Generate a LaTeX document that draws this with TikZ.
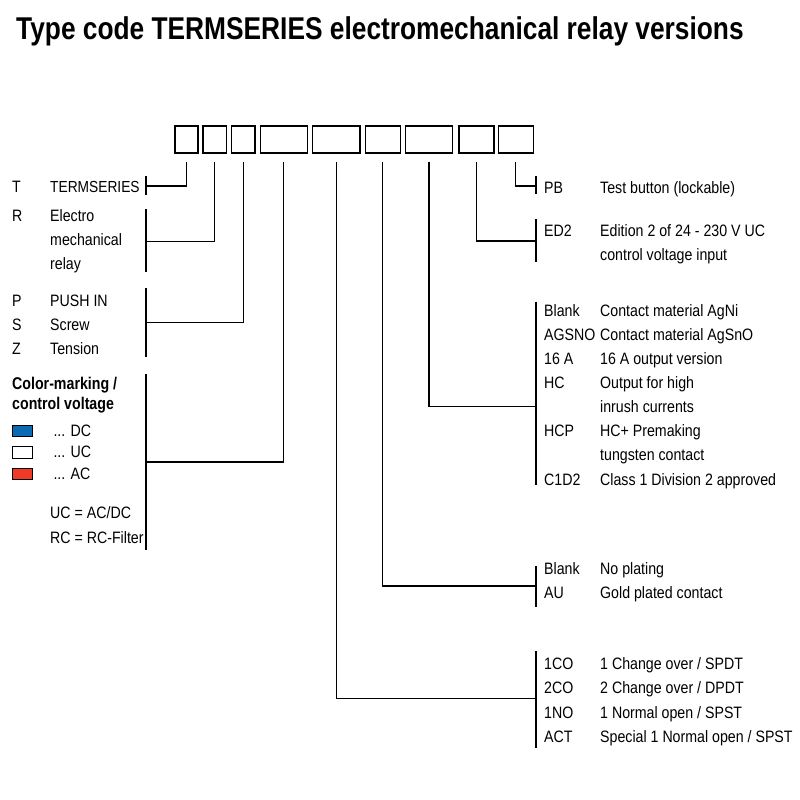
\documentclass[tikz,border=0pt]{standalone}
\usepackage{fontspec}
\setmainfont[FakeStretch=0.835]{Liberation Sans}
\newfontfamily\bodyfont[FakeStretch=0.86]{Liberation Sans}
\definecolor{dcblue}{RGB}{10,106,178}
\definecolor{acred}{RGB}{240,58,40}
\tikzset{
  txt/.style={anchor=base west,inner sep=0,font=\bodyfont\fontsize{16.5}{24.2}\selectfont,align=left},
  lead/.style={line width=1.3pt},
  bar/.style={line width=1.3pt},
}
\begin{document}
\begin{tikzpicture}[x=1pt,y=-1pt]
        \useasboundingbox (0,0) rectangle (800,800);

        \node[anchor=base west,inner sep=0,font=\bfseries\fontsize{31.5}{36}\selectfont] (title) at (16,39.5)
          {Type code TERMSERIES electromechanical relay versions};

        % code boxes
        \begin{scope}[every node/.style={draw,line width=1.4pt,minimum height=27,inner sep=0}]
          \node[minimum width=23]   (b1) at (186.5,139.3) {};
          \node[minimum width=23.5] (b2) at (214.8,139.3) {};
          \node[minimum width=23.5] (b3) at (243.2,139.3) {};
          \node[minimum width=47]   (b4) at (283.7,139.3) {};
          \node[minimum width=47.5] (b5) at (336.2,139.3) {};
          \node[minimum width=35]   (b6) at (382.7,139.3) {};
          \node[minimum width=47]   (b7) at (429,139.3)   {};
          \node[minimum width=35]   (b8) at (476.3,139.3) {};
          \node[minimum width=35]   (b9) at (515.8,139.3) {};
        \end{scope}

        % junctions on the brackets
        \coordinate (jT)   at (146,186);
        \coordinate (jR)   at (146,241.7);
        \coordinate (jP)   at (146,322.3);
        \coordinate (jC)   at (146,462);
        \coordinate (jPB)  at (536,186);
        \coordinate (jED)  at (536,241);
        \coordinate (jMat) at (536,406.7);
        \coordinate (jAU)  at (536,586);
        \coordinate (jCO)  at (536,698.7);

        \begin{scope}[every path/.style={bar}]
          \draw (146,176)   -- (146,195);
          \draw (146,209)   -- (146,271.7);
          \draw (146,288.3) -- (146,356.7);
          \draw (146,374)   -- (146,550);
          \draw (536,176)   -- (536,194);
          \draw (536,219)   -- (536,261.7);
          \draw (536,301.7) -- (536,485);
          \draw (536,566)   -- (536,606.7);
          \draw (536,651)   -- (536,748);
        \end{scope}

        \draw[lead] ([yshift=-8pt]b1.south) |- (jT);
        \draw[lead] ([yshift=-8pt]b2.south) |- (jR);
        \draw[lead] ([yshift=-8pt]b3.south) |- (jP);
        \draw[lead] ([yshift=-8pt]b4.south) |- (jC);
        \draw[lead] ([yshift=-8pt]b5.south) |- (jCO);
        \draw[lead] ([yshift=-8pt]b6.south) |- (jAU);
        \draw[lead] ([yshift=-8pt]b7.south) |- (jMat);
        \draw[lead] ([yshift=-8pt]b8.south) |- (jED);
        \draw[lead] ([yshift=-8pt]b9.south) |- (jPB);

        % left side (base = last line)
        \begin{scope}[every node/.style={txt}]
          \node (cT) at (12,192)    {T};
          \node[font=\bodyfont\fontsize{16}{24.2}\selectfont] (dT) at (50,192) {TERMSERIES};
          \node (cR) at (12,221)    {R};
          \node (dR) at (50,269.4)  {Electro\\mechanical\\relay};
          \node[font=\bodyfont\fontsize{16.5}{23.8}\selectfont] (cP) at (12,354.1) {P\\S\\Z};
          \node[font=\bodyfont\fontsize{16.5}{23.8}\selectfont] (dP) at (50,354.1) {PUSH IN\\Screw\\Tension};
          \node[font=\bfseries\fontsize{17}{19.4}\selectfont] (colhead) at (12,409.3)
            {Color-marking /\\control voltage};
          \node (dDC) at (53.3,436.7) {... DC};
          \node (dUC) at (53.3,457.7) {... UC};
          \node (dAC) at (53.3,479)   {... AC};
          \node[font=\bodyfont\fontsize{16.5}{25}\selectfont] (uc) at (50,543.3) {UC = AC/DC\\RC = RC-Filter};
        \end{scope}

        \begin{scope}[every node/.style={draw,line width=0.8pt,minimum width=19.5,minimum height=11.5,inner sep=0}]
          \node[fill=dcblue] (kDC) at (22.2,431)   {};
          \node[fill=white]  (kUC) at (22.2,452.2) {};
          \node[fill=acred]  (kAC) at (22.2,473.8) {};
        \end{scope}

        % right side (base = last line)
        \begin{scope}[every node/.style={txt}]
          \node (cPB)  at (544,193)   {PB};
          \node (dPB)  at (600,193)   {Test button (lockable)};
          \node (cED)  at (544,236)   {ED2};
          \node (dED)  at (600,260.2) {Edition 2 of 24 - 230 V UC\\control voltage input};
          \node[font=\bodyfont\fontsize{16.5}{24.05}\selectfont] (cMat) at (544,485) {Blank\\AGSNO\\16 A\\HC\\\\HCP\\\\C1D2};
          \node[font=\bodyfont\fontsize{16.5}{24.05}\selectfont] (dMat) at (600,485) {Contact material AgNi\\Contact material AgSnO\\16 A output version\\Output for high\\inrush currents\\HC+ Premaking\\tungsten contact\\Class 1 Division 2 approved};
          \node (cAU)  at (544,598.3) {Blank\\AU};
          \node (dAU)  at (600,598.3) {No plating\\Gold plated contact};
          \node (cCO)  at (544,742.2) {1CO\\2CO\\1NO\\ACT};
          \node (dCO)  at (600,742.2) {1 Change over / SPDT\\2 Change over / DPDT\\1 Normal open / SPST\\Special 1 Normal open / SPST};
        \end{scope}

      \end{tikzpicture}
\end{document}
